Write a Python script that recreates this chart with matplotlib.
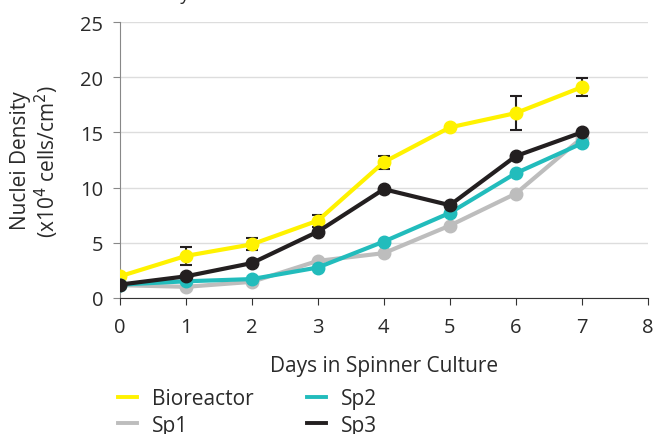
import matplotlib.pyplot as plt
from matplotlib.lines import Line2D

days = [0, 1, 2, 3, 4, 5, 6, 7]
bioreactor = [1.95, 3.8, 4.85, 7.0, 12.3, 15.45, 16.75, 19.1]
bioreactor_err = [0.0, 0.8, 0.55, 0.55, 0.6, 0.0, 1.55, 0.8]
sp1 = [1.15, 1.0, 1.45, 3.35, 4.05, 6.55, 9.45, 14.5]
sp2 = [1.2, 1.5, 1.7, 2.75, 5.1, 7.7, 11.3, 14.0]
sp3 = [1.2, 1.95, 3.15, 6.0, 9.85, 8.4, 12.85, 15.0]

names = ["Bioreactor", "Sp1", "Sp2", "Sp3"]
colors = ["#fff200", "#bdbdbd", "#22bcbc", "#231f20"]

plt.rcParams['font.family'] = ['Open Sans', 'DejaVu Sans']
txt = '#2a2a2a'

fig = plt.figure(figsize=(6.55, 4.35), dpi=100)
ax = fig.add_axes([0.183, 0.313, 0.806, 0.634])

# draw order: bioreactor, sp1, sp2, sp3 on top
ax.errorbar(days, bioreactor, yerr=bioreactor_err, fmt='none', ecolor='#231f20',
            elinewidth=1.5, capsize=4, capthick=1.5, zorder=2)
ax.plot(days, bioreactor, color=colors[0], lw=3, marker='o', ms=9, zorder=3)
ax.plot(days, sp1, color=colors[1], lw=3, marker='o', ms=9, zorder=4)
ax.plot(days, sp2, color=colors[2], lw=3, marker='o', ms=9, zorder=5)
ax.plot(days, sp3, color=colors[3], lw=3, marker='o', ms=9, zorder=6)

ax.set_xlim(0, 8)
ax.set_ylim(0, 25)
ax.set_xticks(range(0, 9))
ax.set_yticks(range(0, 26, 5))
ax.yaxis.grid(True, color='#dddddd', lw=1)
ax.set_axisbelow(True)
for s in ['top', 'right']:
    ax.spines[s].set_visible(False)
ax.spines['left'].set_color('#888888')
ax.spines['bottom'].set_color('#333333')
ax.tick_params(axis='x', length=5, color='#333333', labelsize=14.5, labelcolor=txt, pad=9)
ax.tick_params(axis='y', length=5, color='#888888', labelsize=14.5, labelcolor=txt, pad=7)

ax.set_xlabel("Days in Spinner Culture", fontsize=15, color=txt, labelpad=13)
ax.set_ylabel("Nuclei Density\n(x10$^4$ cells/cm$^2$)", fontsize=15, color=txt,
              labelpad=14, linespacing=1.05)

fig.text(0.107, 1.0, "Nuclei Density", fontsize=13, color=txt, va='baseline')

handles = [Line2D([], [], color=c, lw=2.8) for c in colors]
fig.legend(handles, names, ncol=2, loc='upper left', bbox_to_anchor=(0.18, 0.106),
           frameon=False, fontsize=15, handlelength=0.9, columnspacing=2.6,
           labelspacing=0.28, handletextpad=0.72, borderaxespad=0, borderpad=0,
           labelcolor=txt)

fig.savefig("out.png", dpi=100)
